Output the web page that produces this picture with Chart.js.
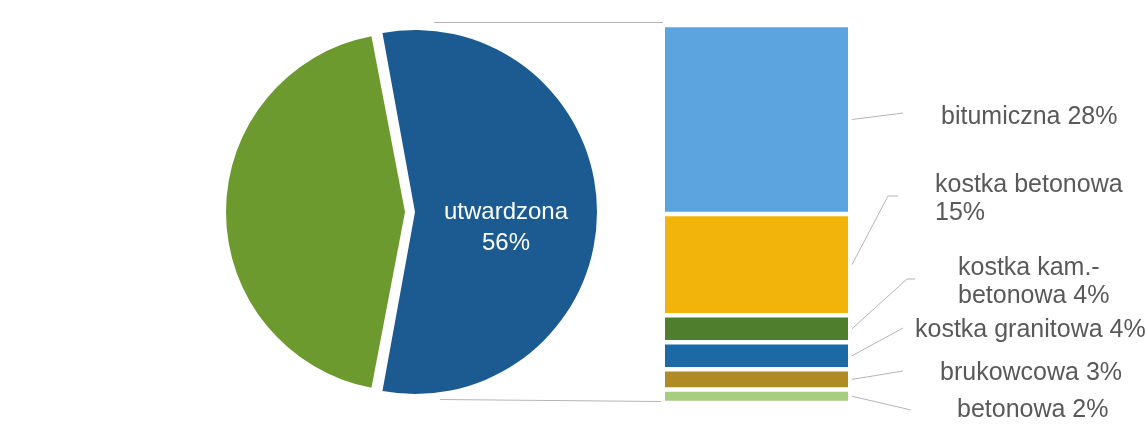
<!DOCTYPE html>
<html>
<head>
<meta charset="utf-8">
<script src="https://cdn.jsdelivr.net/npm/chart.js@4"></script>
<style>
  html, body { margin: 0; padding: 0; background: #fff; }
  #wrap { position: relative; width: 1146px; height: 441px; overflow: hidden; }
  #pieChart { position: absolute; left: 195px; top: 2px; }
  #barChart { position: absolute; left: 0; top: 0; }
</style>
</head>
<body>
<div id="wrap">
  <canvas id="pieChart" width="420" height="420"></canvas>
  <canvas id="barChart" width="1146" height="441"></canvas>
</div>
<script>
// pie: hardened vs. the rest
const pieLabels = ['utwardzona', 'nieutwardzona'];
const pieValues = [56, 44];
const pieColors = ['#1b5b92', '#6c9a2f'];

// bar: breakdown of "utwardzona", listed bottom to top
const barLabels = ['betonowa', 'brukowcowa', 'kostka granitowa', 'kostka kam.-betonowa', 'kostka betonowa', 'bitumiczna'];
const barValues = [2, 3, 4, 4, 15, 28];
const barColors = ['#a8cc80', '#b08a22', '#1b6aa6', '#4f7f2c', '#f2b30a', '#5ba4df'];
// text shown next to each bar segment (same order)
const barTexts = [
    ['betonowa 2%'],
    ['brukowcowa 3%'],
    ['kostka granitowa 4%'],
    ['kostka kam.-', 'betonowa 4%'],
    ['kostka betonowa', '15%'],
    ['bitumiczna 28%']
];

// label placement (layout only)
const labelLayout = [
    { x: 957, y: 410, lx: 911, ly: 410 },
    { x: 940, y: 373, lx: 903, ly: 371 },
    { x: 915, y: 330, lx: 903, ly: 328 },
    { x: 958, y: 268, lx: 907, ly: 279, tail: 8 },
    { x: 935, y: 185, lx: 888, ly: 196, tail: 10 },
    { x: 941, y: 117, lx: 903, ly: 113 }
];

const FONT = '25px "Liberation Sans", Arial, sans-serif';
const TEXT_COLOR = '#595959';
const LINE_COLOR = '#b4b4b4';
const EXPLODE = 10;

const pieLabelPlugin = {
    id: 'pieLabel',
    // chart.js grows an offset arc by its offset too; pull it back in a bit
    afterDatasetUpdate(chart) {
        const arc = chart.getDatasetMeta(0).data[0];
        arc.outerRadius -= EXPLODE - 3;
    },
    afterDatasetsDraw(chart) {
        const ctx = chart.ctx;
        const arc = chart.getDatasetMeta(0).data[0];
        ctx.save();
        ctx.fillStyle = '#ffffff';
        ctx.font = '24px "Liberation Sans", Arial, sans-serif';
        ctx.textAlign = 'center';
        ctx.textBaseline = 'middle';
        ctx.fillText(pieLabels[0], arc.x + 101, arc.y);
        ctx.fillText(pieValues[0] + '%', arc.x + 101, arc.y + 31);
        ctx.restore();
    }
};

new Chart(document.getElementById('pieChart'), {
    type: 'pie',
    data: {
        labels: pieLabels,
        datasets: [{
            data: pieValues,
            backgroundColor: pieColors,
            borderWidth: 0,
            // arc offset is divided by 4 when drawn
            offset: [EXPLODE * 4, 0]
        }]
    },
    options: {
        responsive: false,
        animation: false,
        radius: 179,
        // centre the first slice on 3 o'clock
        rotation: 90 - (pieValues[0] / 100) * 180,
        plugins: { legend: { display: false }, tooltip: { enabled: false } }
    },
    plugins: [pieLabelPlugin]
});

const barLabelPlugin = {
    id: 'barLabels',
    afterDatasetsDraw(chart) {
        const ctx = chart.ctx;
        const area = chart.chartArea;
        ctx.save();

        // connector lines from the pie to the bar
        ctx.strokeStyle = LINE_COLOR;
        ctx.lineWidth = 1;
        ctx.beginPath();
        ctx.moveTo(434, area.top - 2.5);
        ctx.lineTo(area.left - 2, area.top - 2.5);
        ctx.moveTo(440, area.bottom - 3.5);
        ctx.lineTo(area.left - 4, area.bottom - 1.5);
        ctx.stroke();

        ctx.font = FONT;
        ctx.fillStyle = TEXT_COLOR;
        ctx.textAlign = 'left';
        ctx.textBaseline = 'middle';

        barValues.forEach((v, i) => {
            const bar = chart.getDatasetMeta(i).data[0];
            const midY = (bar.y + bar.base) / 2;
            const startX = bar.x + bar.width / 2 + 4;
            const lay = labelLayout[i];

            ctx.beginPath();
            ctx.moveTo(startX, midY);
            ctx.lineTo(lay.lx, lay.ly);
            if (lay.tail) ctx.lineTo(lay.lx + lay.tail, lay.ly);
            ctx.stroke();

            barTexts[i].forEach((line, j) => {
                ctx.fillText(line, lay.x, lay.y + j * 28.5);
            });
        });
        ctx.restore();
    }
};

new Chart(document.getElementById('barChart'), {
    type: 'bar',
    data: {
        labels: [''],
        datasets: barLabels.map((name, i) => ({
            label: name,
            data: [barValues[i]],
            backgroundColor: barColors[i],
            borderColor: '#ffffff',
            borderWidth: { top: 2.5, bottom: 2.5, left: 0, right: 0 },
            borderSkipped: false,
            barPercentage: 1,
            categoryPercentage: 1
        }))
    },
    options: {
        responsive: false,
        animation: false,
        layout: { padding: { left: 665, right: 298, top: 25, bottom: 38 } },
        scales: {
            x: { stacked: true, display: false },
            y: { stacked: true, display: false, min: 0, max: barValues.reduce((a, b) => a + b, 0) }
        },
        plugins: { legend: { display: false }, tooltip: { enabled: false } }
    },
    plugins: [barLabelPlugin]
});
</script>
</body>
</html>
